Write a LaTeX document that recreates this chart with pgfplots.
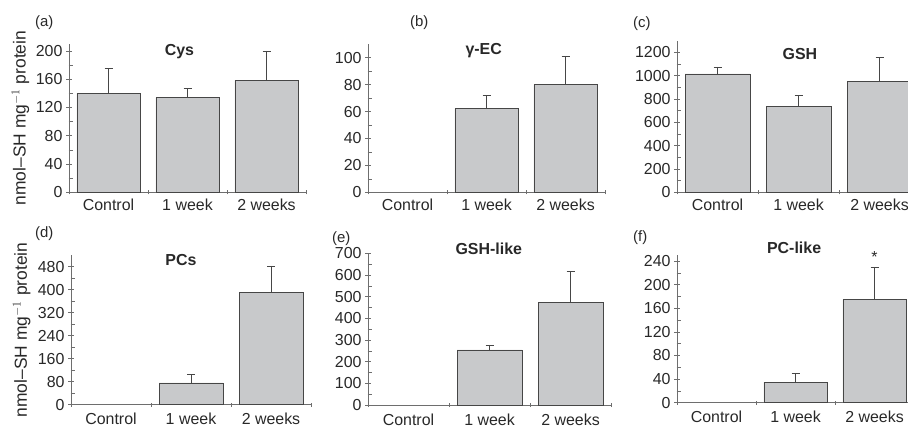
\documentclass[border=0pt]{standalone}
\usepackage{fontspec}
\setmainfont{Liberation Sans}
\usepackage{pgfplots}
\pgfplotsset{compat=1.18}

\definecolor{barfill}{RGB}{200,201,203}
\definecolor{baredge}{RGB}{70,70,70}
\definecolor{axisgray}{RGB}{110,110,110}
\definecolor{txt}{RGB}{40,40,40}

\pgfplotsset{
  panel/.style={
    scale only axis,
    ybar, bar width=0.8,
    xmin=-0.5, xmax=2.5, ymin=0,
    axis x line*=bottom, axis y line*=left,
    axis line style={axisgray, line width=0.6bp, -},
    xtick={0,1,2}, xticklabels={Control,1 week,2 weeks},
    major x tick style={draw=none},
    minor xtick={-0.5,0.5,1.5,2.5},
    minor x tick style={axisgray, line width=0.6bp},
    tick align=center,
    major tick length=6bp, minor tick length=4bp,
    minor y tick num=1,
    y tick style={axisgray, line width=0.6bp},
    minor y tick style={xshift=1.5bp},
    tick label style={font=\fontsize{16}{18}\selectfont, text=txt},
    /pgf/number format/assume math mode=true,
    /pgf/number format/1000 sep={},
    scaled y ticks=false,
    clip=false,
    ylabel style={font=\fontsize{17.5}{20}\selectfont, text=txt,
      at={(axis description cs:-0.205,0.5)}, anchor=center},
  },
  lower/.style={xticklabel style={yshift=-2bp}},
  bars/.style={fill=barfill, draw=baredge, line width=0.7bp,
    error bars/.cd, y dir=plus, y explicit,
    error bar style={baredge, line width=0.6bp},
    error mark options={rotate=90, baredge, line width=0.6bp, mark size=4bp}},
}
\newcommand{\paneltitle}[3]{\node[font=\fontsize{16}{18}\selectfont\bfseries, text=txt, anchor=base] at (rel axis cs:#1,#2) {#3};}

\begin{document}
\begin{tikzpicture}[x=1bp,y=1bp]

% (a) Cys
\begin{axis}[panel, at={(69bp,235.7bp)}, anchor=south west,
  width=237bp, height=148.4bp, ymax=210, ytick={0,40,...,200},
  ylabel={nmol–SH mg$^{-1}$ protein}]
\addplot[bars] table[x=x, y=y, y error=e] {
x y e
0 140 35
1 134 13
2 158 42
};
\paneltitle{0.466}{0.921}{Cys}
\end{axis}

% (b) gamma-EC
\begin{axis}[panel, at={(368bp,235.7bp)}, anchor=south west,
  width=237bp, height=148.1bp, ymax=110, ytick={0,20,...,100}]
\addplot[bars] table[x=x, y=y, y error=e] {
x y e
1 62 10
2 80 21
};
\paneltitle{0.488}{0.928}{γ-EC}
\end{axis}

% (c) GSH
\begin{axis}[panel, at={(677bp,235.7bp)}, anchor=south west,
  width=243bp, height=151.7bp, ymax=1300, ytick={0,200,...,1200}]
\addplot[bars] table[x=x, y=y, y error=e] {
x y e
0 1015 60
1 735 95
2 950 205
};
\paneltitle{0.506}{0.873}{GSH}
\end{axis}

% (d) PCs
\begin{axis}[panel, lower, at={(71bp,23.3bp)}, anchor=south west,
  width=240bp, height=149.5bp, ymax=520, ytick={0,80,...,480},
  ylabel={nmol–SH mg$^{-1}$ protein}]
\addplot[bars] table[x=x, y=y, y error=e] {
x y e
1 76 29
2 390 93
};
\paneltitle{0.458}{0.934}{PCs}
\end{axis}

% (e) GSH-like
\begin{axis}[panel, lower, at={(368bp,23bp)}, anchor=south west,
  width=243bp, height=151.7bp, ymax=700, ytick={0,100,...,700}]
\addplot[bars] table[x=x, y=y, y error=e] {
x y e
1 254 23
2 472 143
};
\paneltitle{0.497}{0.989}{GSH-like}
\end{axis}

% (f) PC-like
\begin{axis}[panel, lower, at={(677bp,25.3bp)}, anchor=south west,
  width=237bp, height=147.6bp, ymax=250, ytick={0,40,...,240}]
\addplot[bars] table[x=x, y=y, y error=e] {
x y e
1 35 15
2 175 55
};
\paneltitle{0.494}{1.01}{PC-like}
\node[font=\fontsize{16}{18}\selectfont, text=txt, anchor=south] at (axis cs:2,232) {*};
\end{axis}

% panel letters
\begin{scope}[every node/.style={font=\fontsize{15}{17}\selectfont, text=txt, anchor=base west, inner sep=0pt}]
\node at (35,401) {(a)};
\node at (410,401) {(b)};
\node at (633,400) {(c)};
\node at (35,191) {(d)};
\node at (332,186) {(e)};
\node at (633,187) {(f)};
\end{scope}

% the figure is trimmed to a fixed frame; the right-most panels run past its edge
\pgfresetboundingbox
\useasboundingbox (0,0) rectangle (908,428);
\end{tikzpicture}
\end{document}
